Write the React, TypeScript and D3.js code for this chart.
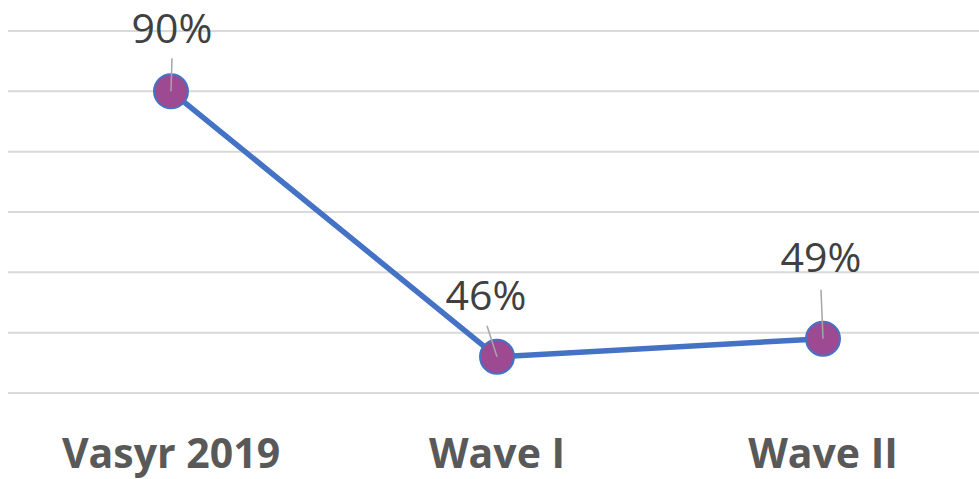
import React from "react";
import * as d3 from "d3";

const categories = ["Vasyr 2019", "Wave I", "Wave II"];
const values = [90, 46, 49];
const yTicks = [40, 50, 60, 70, 80, 90, 100];

// label placement offsets (layout, relative to point)
const labelOffsets = [
  { dx: 1, dy: -48, lx: 1, ly: -33 },
  { dx: -11, dy: -47, lx: -10, ly: -31 },
  { dx: -2, dy: -67, lx: -2, ly: -49 },
];

const W = 979;
const H = 479;

export default function App() {
  const x = d3.scaleBand<string>().domain(categories).range([8, 986]);
  const y = d3.scaleLinear().domain([40, 100]).range([393, 31]);
  const cx = (c: string) => (x(c) as number) + x.bandwidth() / 2;

  const line = d3
    .line<number>()
    .x((_, i) => cx(categories[i]))
    .y((d) => y(d));

  return (
    <svg
      width={W}
      height={H}
      style={{ position: "absolute", left: 0, top: 0, background: "#fff" }}
      fontFamily="'Open Sans', sans-serif"
    >
      <rect width={W} height={H} fill="#fff" />
      {yTicks.map((t) => (
        <line
          key={t}
          x1={8}
          x2={986}
          y1={y(t)}
          y2={y(t)}
          stroke="#d9d9d9"
          strokeWidth={2}
        />
      ))}
      <path
        d={line(values) || ""}
        fill="none"
        stroke="#4472C4"
        strokeWidth={5.5}
        strokeLinejoin="round"
      />
      {values.map((v, i) => {
        const px = cx(categories[i]);
        const py = y(v);
        const o = labelOffsets[i];
        return (
          <g key={i}>
            <circle cx={px} cy={py} r={17} fill="#9E4A93" stroke="#4472C4" strokeWidth={2} />
            <line
              x1={px + o.lx}
              y1={py + o.ly}
              x2={px}
              y2={py}
              stroke="#a6a6a6"
              strokeWidth={1.5}
            />
            <text
              x={px + o.dx}
              y={py + o.dy}
              textAnchor="middle"
              fontSize={41}
              fill="#404040"
            >
              {v}%
            </text>
          </g>
        );
      })}
      {categories.map((c) => (
        <text
          key={c}
          x={cx(c)}
          y={468}
          textAnchor="middle"
          fontSize={41}
          fontWeight="bold"
          fill="#595959"
        >
          {c}
        </text>
      ))}
    </svg>
  );
}
